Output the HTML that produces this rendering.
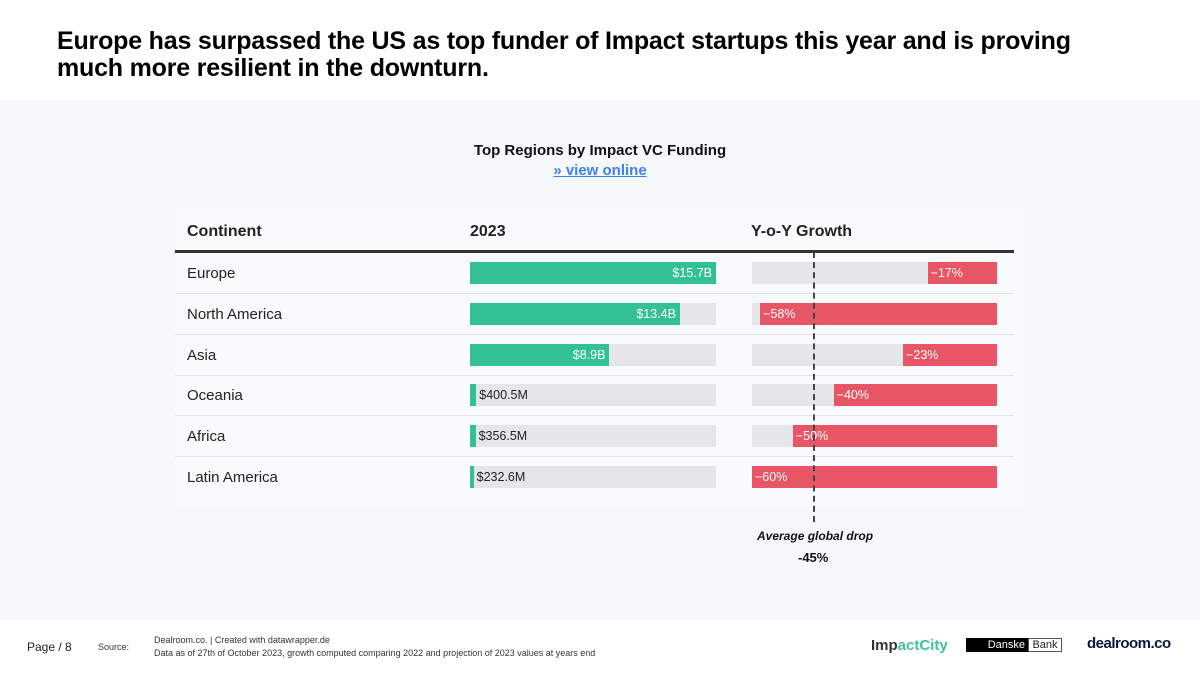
<!DOCTYPE html>
<html><head><meta charset="utf-8">
<style>
body{margin:0;width:1200px;height:675px;background:#f7f8fc;font-family:"Liberation Sans",sans-serif;position:relative;overflow:hidden}
.abs{position:absolute}
#header{left:0;top:0;width:1200px;height:100px;background:#fff}
#title{left:57px;top:28px;font-size:25px;font-weight:bold;line-height:27px;color:#000;width:1060px;letter-spacing:-0.2px}
#ctitle{left:0;width:1200px;top:142px;text-align:center;font-size:15px;font-weight:bold;color:#111}
#clink{left:0;width:1200px;top:162px;text-align:center;font-size:15px;font-weight:bold;color:#3b82f6;text-decoration:underline}
.hd{font-size:16px;font-weight:bold;color:#222;top:223px}
.lbl{font-size:15px;color:#222}
.val{font-size:12.5px}
#footer{left:0;top:620px;width:1200px;height:55px;background:#fff}
</style></head><body>
<div class="abs" id="header"></div>
<div class="abs" id="title">Europe has surpassed the US as top funder of Impact startups this year and is proving much more resilient in the downturn.</div>
<div class="abs" id="ctitle">Top Regions by Impact VC Funding</div>
<div class="abs" id="clink">» view online</div>
<div class="abs" style="left:175px;top:208px;width:850px;height:298px;background:#f9fafc"></div>
<div class="abs hd" style="left:187px">Continent</div>
<div class="abs hd" style="left:470px">2023</div>
<div class="abs hd" style="left:751px">Y-o-Y Growth</div>
<div class="abs" style="left:175px;top:250px;width:839px;height:3px;background:#333"></div>
<div id="rows"></div>
<div class="abs" style="left:757px;top:529px;font-size:12px;font-weight:bold;font-style:italic;color:#111">Average global drop</div>
<div class="abs" style="left:798px;top:550px;font-size:13px;font-weight:bold;color:#111">-45%</div>
<div class="abs" id="footer"></div>
<div class="abs" style="left:27px;top:640px;font-size:12px;color:#222">Page / 8</div>
<div class="abs" style="left:98px;top:642px;font-size:9px;color:#333">Source:</div>
<div class="abs" style="left:154px;top:634px;font-size:9px;color:#333;line-height:13px">Dealroom.co. | Created with datawrapper.de<br>Data as of 27th of October 2023, growth computed comparing 2022 and projection of 2023 values at years end</div>
<div class="abs" style="left:871px;top:637px;font-size:15px;font-weight:bold;color:#333">Imp<span style="color:#3cc49a">actCity</span></div>
<div class="abs" style="left:966px;top:638px;width:97px;height:14px;font-size:11px;line-height:14px"><span style="display:inline-block;background:#000;color:#fff;width:62px;text-align:right;padding-right:3px;box-sizing:border-box">Danske</span><span style="display:inline-block;border:1px solid #555;color:#222;width:34px;box-sizing:border-box;height:14px;line-height:12px;text-align:center">Bank</span></div>
<div class="abs" style="left:1087px;top:635px;font-size:15px;font-weight:bold;color:#0b1a3a;letter-spacing:-0.5px">dealroom.co</div>
<script>
const regions=["Europe","North America","Asia","Oceania","Africa","Latin America"];
const funding=[15.7,13.4,8.9,0.4005,0.3565,0.2326];
const fundingLabels=["$15.7B","$13.4B","$8.9B","$400.5M","$356.5M","$232.6M"];
const growth=[-17,-58,-23,-40,-50,-60];
const avgGrowth=-45;
const root=document.getElementById('rows');
const fx0=470,fw=246,fmax=15.7;
const gx1=997,gw=245,gmax=60;
const fS=v=>v/fmax*fw;
const gS=v=>Math.abs(v)/gmax*gw;
function div(css,text){const d=document.createElement('div');d.className='abs';d.style.cssText=css;if(text!==undefined)d.textContent=text;root.appendChild(d);return d;}
regions.forEach((r,i)=>{
  const cy=273+i*40.8, top=cy-11;
  let d=div(`left:187px;top:${cy-8}px`, r);d.classList.add('lbl');
  
  
  if(i<regions.length-1){d=div(`left:175px;top:${cy+20}px;width:839px;height:1px;background:#e2e4e8`);
  
  }
  d=div(`left:${fx0}px;top:${top}px;width:${fw}px;height:22px;background:#e5e6e9`);
  
  
  const w=Math.max(fS(funding[i]),3);
  d=div(`left:${fx0}px;top:${top}px;width:${w}px;height:22px;background:#33c194`);
  
  
  const big=w>60;
  d=div(big?`left:${fx0}px;width:${w-4}px;text-align:right;top:${top+4}px;color:#fff`:`left:${fx0+w+3}px;top:${top+4}px;color:#222`,fundingLabels[i]);d.classList.add('val');
  
  
  d=div(`left:${gx1-gw}px;top:${top}px;width:${gw}px;height:22px;background:#e5e6e9`);
  
  
  const gw_=gS(growth[i]);
  d=div(`left:${gx1-gw_}px;top:${top}px;width:${gw_}px;height:22px;background:#e85665`);
  
  
  d=div(`left:${gx1-gw_+3}px;top:${top+4}px;color:#fff`,'\u2212'+Math.abs(growth[i])+'%');d.classList.add('val');
  
  
});
const ax=gx1-gS(avgGrowth);
const ln=div(`left:${ax}px;top:252px;width:0;height:270px;border-left:2px dashed #444`);


</script>
</body></html>
